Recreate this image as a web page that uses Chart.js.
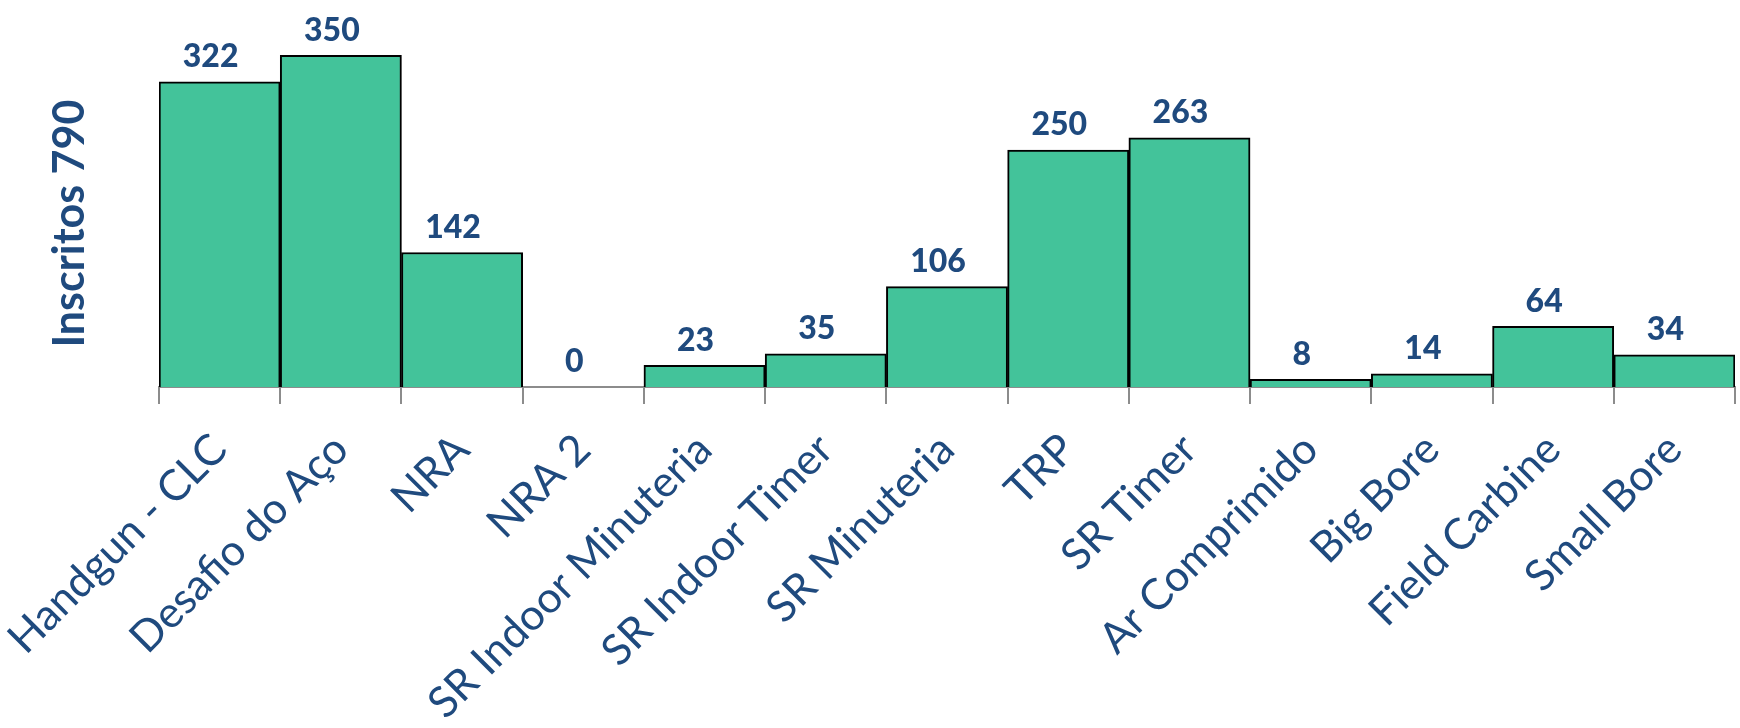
<!DOCTYPE html>
<html>
<head>
    <meta charset="utf-8">
    <title>Inscritos</title>
    <script src="https://cdn.jsdelivr.net/npm/chart.js"></script>
    <style type="text/css">
        body { margin: 0; background: #fff; }
        .chart-box { position: relative; width: 1740px; height: 728px; }
    </style>
</head>
<body>
    <div class="chart-box"><canvas id="myChart"></canvas></div>

    <script>
        const categories = ['Handgun - CLC', 'Desafio do Aço', 'NRA', 'NRA 2', 'SR Indoor Minuteria', 'SR Indoor Timer',
            'SR Minuteria', 'TRP', 'SR Timer', 'Ar Comprimido', 'Big Bore', 'Field Carbine', 'Small Bore'];
        const inscritos = [322, 350, 142, 0, 23, 35, 106, 250, 263, 8, 14, 64, 34];
        const yTitle = 'Inscritos 790';

        const navy = '#1f4a7e';
        const green = '#43c39a';
        const gray = '#8c8c8c';

        // numbers above the bars
        const valueLabels = {
            id: 'valueLabels',
            afterDatasetsDraw(chart) {
                const ctx = chart.ctx;
                const meta = chart.getDatasetMeta(0);
                ctx.save();
                ctx.font = '900 32px Lato';
                ctx.fillStyle = navy;
                ctx.textAlign = 'center';
                ctx.textBaseline = 'bottom';
                meta.data.forEach(function (bar, i) {
                    ctx.fillText(inscritos[i], bar.x - 9, bar.y - 9);
                });
                ctx.restore();
            }
        };

        var ctx = document.getElementById('myChart').getContext('2d');
        var myChart = new Chart(ctx, {
            type: 'bar',
            data: {
                labels: categories,
                datasets: [{
                    data: inscritos,
                    backgroundColor: green,
                    borderColor: '#000',
                    borderWidth: 2,
                    barPercentage: 1,
                    categoryPercentage: 1
                }]
            },
            options: {
                responsive: true,
                maintainAspectRatio: false,
                animation: false,
                layout: { padding: { top: 8, right: 5, left: 0, bottom: 0 } },
                plugins: {
                    legend: { display: false },
                    tooltip: { enabled: false }
                },
                scales: {
                    x: {
                        grid: { offset: true, drawOnChartArea: false, drawTicks: true, tickLength: 17, color: gray, lineWidth: 2 },
                        border: { color: gray, width: 2 },
                        ticks: {
                            color: navy,
                            font: { family: 'Lato', size: 43 },
                            minRotation: 45,
                            maxRotation: 45,
                            autoSkip: false,
                            padding: 20
                        },
                        afterFit: function (s) {
                            s.height = 341;
                            s.paddingLeft = 0;
                            s.paddingRight = 0;
                        }
                    },
                    y: {
                        min: 0,
                        max: 400,
                        ticks: { display: false },
                        grid: { display: false },
                        border: { display: false },
                        title: {
                            display: true,
                            text: yTitle + '     ',
                            color: navy,
                            font: { family: 'Lato', size: 43, weight: 'bold' },
                            padding: { top: 44 }
                        },
                        afterFit: function (s) { s.width = 159; }
                    }
                }
            },
            plugins: [valueLabels]
        });
    </script>
</body>
</html>
